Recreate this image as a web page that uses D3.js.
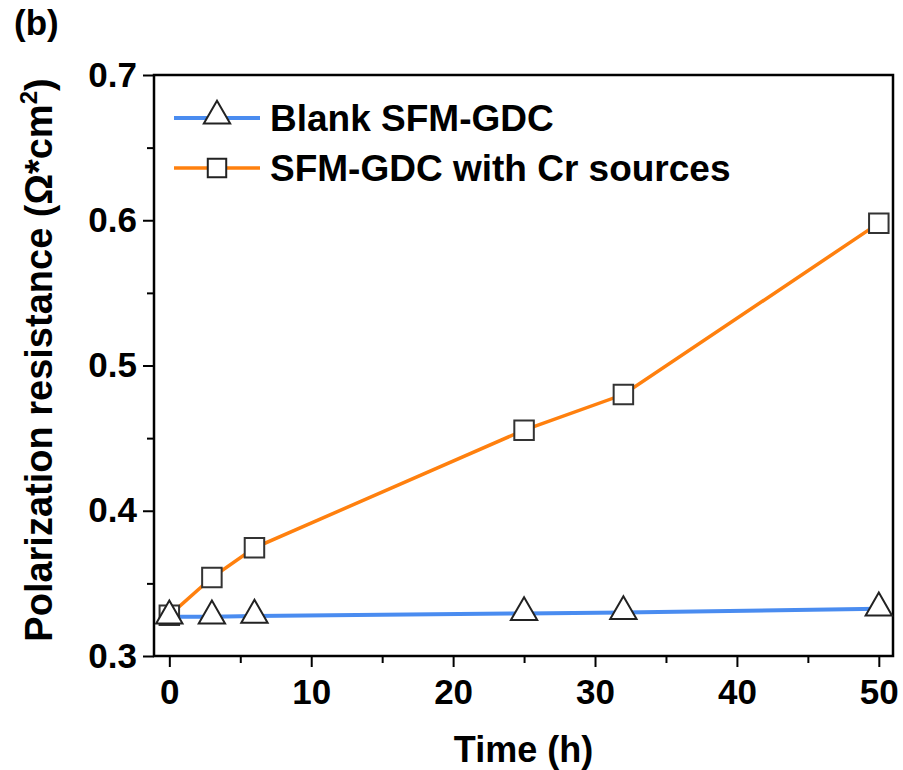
<!DOCTYPE html>
<html>
<head>
<meta charset="utf-8">
<script src="https://cdn.jsdelivr.net/npm/d3@7"></script>
<style>
  body { margin: 0; background: #fff; }
  text { font-family: "Liberation Sans", Arial, sans-serif; font-weight: bold; }
</style>
</head>
<body>
<svg class="chart" width="903" height="770"></svg>
<script>
// data
const hours = [0, 3, 6, 25, 32, 50]
const blank = [0.327, 0.327, 0.3275, 0.3293, 0.330, 0.3325]
const withCr = [0.328, 0.354, 0.3745, 0.4555, 0.480, 0.598]
const xTicks = [0, 10, 20, 30, 40, 50]
const yTicks = [0.3, 0.4, 0.5, 0.6, 0.7]
const seriesNames = ["Blank SFM-GDC", "SFM-GDC with Cr sources"]

const svg = d3.select("svg.chart")

const plotL = 154, plotR = 893, plotT = 75, plotB = 656

const x = d3.scaleLinear()
  .domain([-1.08, 51])
  .range([plotL, plotR])

const y = d3.scaleLinear()
  .domain([0.3, 0.7])
  .range([plotB, plotT])

// minor ticks
const xMinor = d3.range(5, 50, 10)
const yMinor = [0.35, 0.45, 0.55, 0.65]

svg.append("g")
  .attr("transform", `translate(0,${plotB})`)
  .call(d3.axisBottom(x).tickValues(xMinor).tickSize(7).tickFormat(""))
  .call(g => g.select(".domain").remove())
  .selectAll("line").attr("stroke-width", 2)

svg.append("g")
  .attr("transform", `translate(${plotL},0)`)
  .call(d3.axisLeft(y).tickValues(yMinor).tickSize(7).tickFormat(""))
  .call(g => g.select(".domain").remove())
  .selectAll("line").attr("stroke-width", 2)

// major axes
const xAxis = svg.append("g")
  .attr("transform", `translate(0,${plotB})`)
  .call(d3.axisBottom(x).tickValues(xTicks).tickSize(11).tickPadding(12))
xAxis.select(".domain").remove()
xAxis.selectAll("line").attr("stroke-width", 2)
xAxis.selectAll("text")
  .attr("font-size", 35)
  .attr("font-family", "Liberation Sans, Arial, sans-serif")
  .attr("font-weight", "bold")
  .attr("fill", "#000")

const yAxis = svg.append("g")
  .attr("transform", `translate(${plotL},0)`)
  .call(d3.axisLeft(y).tickValues(yTicks).tickSize(11).tickPadding(6).tickFormat(d3.format(".1f")))
yAxis.select(".domain").remove()
yAxis.selectAll("line").attr("stroke-width", 2)
yAxis.selectAll("text")
  .attr("font-size", 35)
  .attr("font-family", "Liberation Sans, Arial, sans-serif")
  .attr("font-weight", "bold")
  .attr("fill", "#000")

// frame
svg.append("rect")
  .attr("x", plotL)
  .attr("y", plotT)
  .attr("width", plotR - plotL)
  .attr("height", plotB - plotT)
  .attr("fill", "none")
  .attr("stroke", "#000")
  .attr("stroke-width", 2.5)

const line = d3.line()
  .x((d, i) => x(hours[i]))
  .y(d => y(d))

svg.append("path")
  .datum(withCr)
  .attr("d", line)
  .attr("fill", "none")
  .attr("stroke", "#ff800e")
  .attr("stroke-width", 3.5)

svg.append("path")
  .datum(blank)
  .attr("d", line)
  .attr("fill", "none")
  .attr("stroke", "#4a8cf0")
  .attr("stroke-width", 4)

const square = d3.symbol().type(d3.symbolSquare).size(380)
const triangle = d3.symbol().type(d3.symbolTriangle).size(300)

svg.selectAll("path.sq")
  .data(withCr)
  .enter()
  .append("path")
  .attr("class", "sq")
  .attr("d", square)
  .attr("transform", (d, i) => `translate(${x(hours[i])},${y(d)})`)
  .attr("fill", "#fff")
  .attr("stroke", "#333")
  .attr("stroke-width", 2)

svg.selectAll("path.tri")
  .data(blank)
  .enter()
  .append("path")
  .attr("class", "tri")
  .attr("d", triangle)
  .attr("transform", (d, i) => `translate(${x(hours[i])},${y(d) - 1})`)
  .attr("fill", "#fff")
  .attr("stroke", "#222")
  .attr("stroke-width", 2)

// legend
const legend = svg.append("g")
const rows = [
  { name: seriesNames[0], color: "#4a8cf0", w: 4, y: 118 },
  { name: seriesNames[1], color: "#ff800e", w: 3.5, y: 168 }
]
const legendRows = legend.selectAll("g")
  .data(rows)
  .enter()
  .append("g")
  .attr("transform", d => `translate(0,${d.y})`)

legendRows.append("line")
  .attr("x1", 174).attr("x2", 260)
  .attr("stroke", d => d.color)
  .attr("stroke-width", d => d.w)

legendRows.append("path")
  .attr("d", (d, i) => i === 0 ? d3.symbol().type(d3.symbolTriangle).size(300)() : d3.symbol().type(d3.symbolSquare).size(340)())
  .attr("transform", (d, i) => `translate(217,${i === 0 ? -2 : 0})`)
  .attr("fill", "#fff")
  .attr("stroke", "#222")
  .attr("stroke-width", 2)

legendRows.append("text")
  .attr("x", 270)
  .attr("y", 13)
  .attr("font-size", 37)
  .text(d => d.name)

// axis titles
svg.append("text")
  .attr("x", (plotL + plotR) / 2)
  .attr("y", 762)
  .attr("text-anchor", "middle")
  .attr("font-size", 36)
  .text("Time (h)")

const yTitle = svg.append("text")
  .attr("transform", "translate(52,360) rotate(-90)")
  .attr("text-anchor", "middle")
  .attr("font-size", 38)
yTitle.append("tspan").text("Polarization resistance (Ω*cm")
yTitle.append("tspan").attr("font-size", 24).attr("dy", -15).text("2")
yTitle.append("tspan").attr("dy", 15).text(")")

svg.append("text")
  .attr("x", 14)
  .attr("y", 35)
  .attr("font-size", 35)
  .text("(b)")
</script>
</body>
</html>
